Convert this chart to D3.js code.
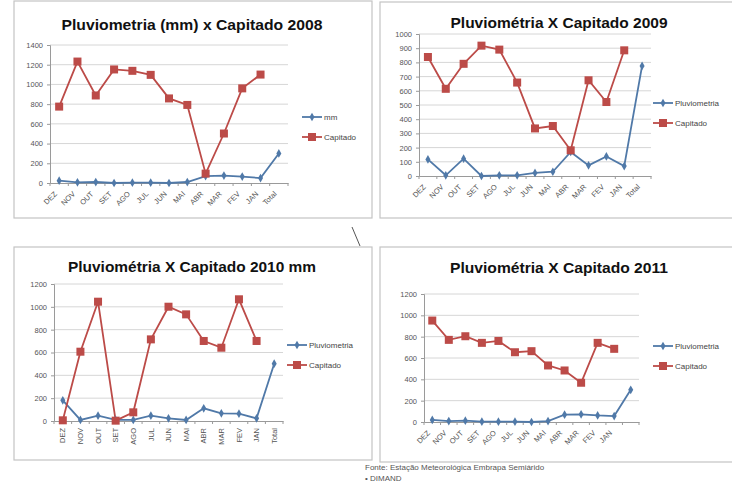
<!DOCTYPE html>
<html>
<head>
<meta charset="utf-8">
<script src="https://cdnjs.cloudflare.com/ajax/libs/d3/7.8.5/d3.min.js"></script>
<style>
  body { margin: 0; background: #fff; }
  svg { display: block; font-family: "Liberation Sans", Arial, sans-serif; }
  .tick text { fill: #555; }
</style>
</head>
<body>
<svg width="732" height="484"></svg>
<script>
// meses (ordem do gráfico) + Total
const categories = ["DEZ", "NOV", "OUT", "SET", "AGO", "JUL", "JUN", "MAI", "ABR", "MAR", "FEV", "JAN", "Total"];

// 2008
const chuva2008 = [24, 7, 10, 0, 3, 3, 0, 10, 70, 75, 65, 50, 300];
const capitado2008 = [775, 1232, 888, 1152, 1138, 1097, 858, 792, 95, 502, 960, 1100, null];
// 2009
const chuva2009 = [117, 5, 122, 0, 5, 5, 22, 30, 169, 75, 138, 70, 775];
const capitado2009 = [838, 614, 790, 918, 890, 658, 335, 352, 181, 674, 521, 885, null];
// 2010
const chuva2010 = [181, 9, 47, 9, 9, 47, 23, 9, 111, 67, 64, 23, 502];
const capitado2010 = [6, 607, 1045, 3, 76, 715, 1001, 934, 701, 642, 1066, 701, null];
// 2011
const chuva2011 = [19, 9, 12, 3, 3, 3, 0, 9, 69, 72, 62, 56, 302];
const capitado2011 = [951, 770, 804, 742, 760, 654, 664, 530, 483, 368, 742, 686, null];

const titles = [
  "Pluviometria (mm) x Capitado 2008",
  "Pluviométria X Capitado 2009",
  "Pluviométria X Capitado 2010 mm",
  "Pluviométria X Capitado 2011"
];
const seriesNames2008 = ["mm", "Capitado"];
const seriesNames = ["Pluviometria", "Capitado"];

const blue = "#5079a8";
const red = "#bc4b48";

const svg = d3.select("svg");

// configuração de cada painel (posições em pixels)
const panels = [
  { box: [14, 1, 372, 218], plot: [50, 288, 183, 45], max: 1400, step: 200,
    title: titles[0], tx: 192, ty: 25, tw: 261, names: seriesNames2008,
    chuva: chuva2008, cap: capitado2008, lx: 302, ly: 117, rot: -45, showTotal: true },
  { box: [380, 2, 740, 218], plot: [419, 651, 176, 34], max: 1000, step: 100,
    title: titles[1], tx: 559, ty: 23, tw: 217, names: seriesNames,
    chuva: chuva2009, cap: capitado2009, lx: 653, ly: 103, rot: -45, showTotal: true },
  { box: [14, 247, 372, 460], plot: [54, 283, 421, 284], max: 1200, step: 200,
    title: titles[2], tx: 192, ty: 267, tw: 248, names: seriesNames,
    chuva: chuva2010, cap: capitado2010, lx: 287, ly: 345, rot: -90, showTotal: true },
  { box: [380, 247, 740, 462], plot: [424, 639, 422, 294], max: 1200, step: 200,
    title: titles[3], tx: 559, ty: 268, tw: 218, names: seriesNames,
    chuva: chuva2011, cap: capitado2011, lx: 653, ly: 346, rot: -45, showTotal: false }
];

panels.forEach(drawPanel);

function drawPanel(p) {
  const g = svg.append("g");

  g.append("rect")
    .attr("x", p.box[0]).attr("y", p.box[1])
    .attr("width", p.box[2] - p.box[0]).attr("height", p.box[3] - p.box[1])
    .attr("fill", "#fff").attr("stroke", "#c4c4c4").attr("stroke-width", 1.2);

  g.append("text")
    .attr("x", p.tx).attr("y", p.ty + 5)
    .attr("text-anchor", "middle")
    .attr("font-size", 15).attr("font-weight", "bold").attr("fill", "#111")
    .attr("textLength", p.tw).attr("lengthAdjust", "spacingAndGlyphs")
    .text(p.title);

  const [left, right, bottom, top] = p.plot;
  const x = d3.scaleBand().domain(categories).range([left, right]);
  const cx = d => x(d) + x.bandwidth() / 2;
  const y = d3.scaleLinear().domain([0, p.max]).range([bottom, top]);
  const yTicks = d3.range(0, p.max + 1, p.step);

  // linhas de grade
  g.append("g").selectAll("line")
    .data(yTicks.filter(t => t > 0))
    .enter().append("line")
    .attr("x1", left).attr("x2", right)
    .attr("y1", d => y(d)).attr("y2", d => y(d))
    .attr("stroke", "#d6d6d6").attr("stroke-width", 1);

  // eixo y
  const yAxis = g.append("g")
    .attr("transform", `translate(${left},0)`)
    .call(d3.axisLeft(y).tickValues(yTicks).tickSize(3).tickPadding(4).tickFormat(d3.format("d")));
  yAxis.selectAll("path, line").attr("stroke", "#9a9a9a");
  yAxis.selectAll("text").attr("font-size", 7.5).style("font-family", "inherit");

  // eixo x
  const xAxis = g.append("g")
    .attr("transform", `translate(0,${bottom})`)
    .call(d3.axisBottom(x).tickSize(0).tickSizeOuter(0)
      .tickFormat(d => (d === "Total" && !p.showTotal) ? "" : d));
  xAxis.select("path").attr("stroke", "#9a9a9a");
  const xt = xAxis.selectAll("text")
    .attr("font-size", 7.5).style("font-family", "inherit")
    .attr("text-anchor", "end");
  if (p.rot === -90) {
    xt.attr("x", -7).attr("y", 0).attr("dy", "0.35em").attr("transform", "rotate(-90)");
  } else {
    xt.attr("x", -5).attr("y", 0).attr("dy", "0.35em").attr("transform", "translate(0,6) rotate(-45)");
  }
  // marcas entre categorias
  xAxis.append("g").selectAll("line")
    .data(categories.map(c => x(c)).concat([right]))
    .enter().append("line")
    .attr("x1", d => d).attr("x2", d => d)
    .attr("y1", 0).attr("y2", 3)
    .attr("stroke", "#9a9a9a");

  // séries
  const line = d3.line()
    .defined(d => d.v !== null)
    .x(d => cx(d.c)).y(d => y(d.v));

  const chuvaPts = categories.map((c, i) => ({ c, v: p.chuva[i] }));
  const capPts = categories.map((c, i) => ({ c, v: p.cap[i] }));

  g.append("path").datum(chuvaPts)
    .attr("d", line).attr("fill", "none")
    .attr("stroke", blue).attr("stroke-width", 1.8);
  g.append("path").datum(capPts)
    .attr("d", line).attr("fill", "none")
    .attr("stroke", red).attr("stroke-width", 1.8);

  const diamond = d3.symbol().type(d3.symbolDiamond).size(22);
  g.append("g").selectAll("path")
    .data(chuvaPts.filter(d => d.v !== null))
    .enter().append("path")
    .attr("d", diamond)
    .attr("transform", d => `translate(${cx(d.c)},${y(d.v)})`)
    .attr("fill", blue);

  g.append("g").selectAll("rect")
    .data(capPts.filter(d => d.v !== null))
    .enter().append("rect")
    .attr("x", d => cx(d.c) - 4).attr("y", d => y(d.v) - 4)
    .attr("width", 8).attr("height", 8)
    .attr("fill", red);

  // legenda
  const leg = g.append("g").attr("transform", `translate(${p.lx},${p.ly})`);
  [[blue, p.names[0], 0], [red, p.names[1], 20]].forEach(([col, name, dy], k) => {
    leg.append("line").attr("x1", 0).attr("x2", 20).attr("y1", dy).attr("y2", dy)
      .attr("stroke", col).attr("stroke-width", 1.8);
    if (k === 0) {
      leg.append("path").attr("d", diamond).attr("transform", `translate(10,${dy})`).attr("fill", col);
    } else {
      leg.append("rect").attr("x", 6).attr("y", dy - 4).attr("width", 8).attr("height", 8).attr("fill", col);
    }
    leg.append("text").attr("x", 22).attr("y", dy).attr("dy", "0.35em")
      .attr("font-size", 8).attr("fill", "#444").text(name);
  });
}

// risco solto entre os gráficos
svg.append("line")
  .attr("x1", 352).attr("y1", 227).attr("x2", 360).attr("y2", 246)
  .attr("stroke", "#555").attr("stroke-width", 1);

// fonte
svg.append("text").attr("x", 365).attr("y", 470)
  .attr("font-size", 8).attr("fill", "#555")
  .text("Fonte: Estação Meteorológica Embrapa Semiárido");
svg.append("text").attr("x", 365).attr("y", 481)
  .attr("font-size", 8).attr("fill", "#555")
  .text("• DIMAND");
</script>
</body>
</html>
